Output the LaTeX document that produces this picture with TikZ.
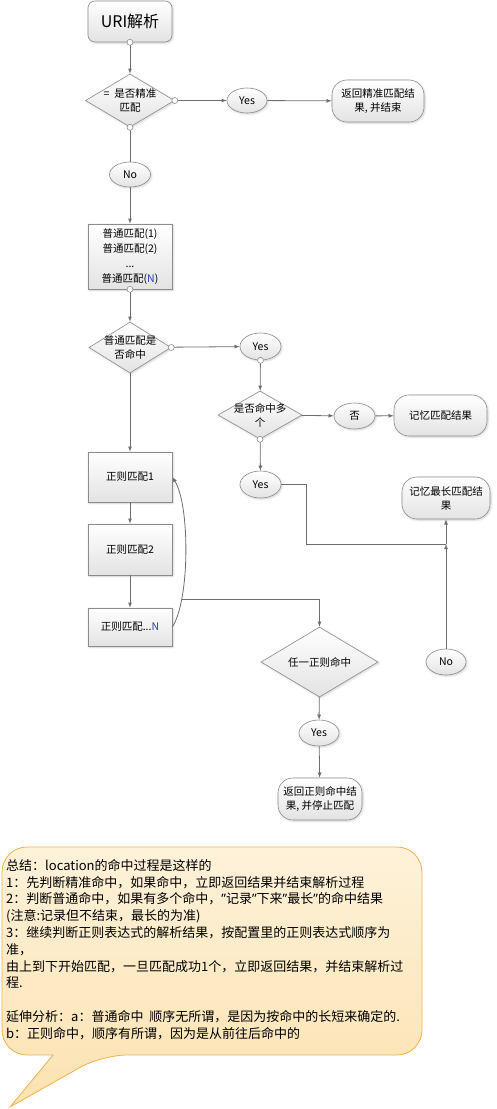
\documentclass[tikz,border=0pt]{standalone}
\usepackage{fontspec}
\setmainfont{Noto Sans CJK SC}
\newfontfamily\quotefont{Noto Sans}
\newcommand{\qmark}{{\quotefont ”}}
\usetikzlibrary{shapes.geometric,shadows.blur}
\definecolor{linegray}{HTML}{6E6E6E}
\definecolor{boxgray}{HTML}{8C8C8C}
\definecolor{notetop}{HTML}{FEF2DA}
\definecolor{notebottom}{HTML}{FCE2B0}
\definecolor{noteedge}{HTML}{F2B14C}
\definecolor{nblue}{HTML}{2A3CB8}
\tikzset{
	base/.style={draw=boxgray, line width=0.6pt, top color=white, bottom color=gray!22,
			font=\fontsize{10.5}{14}\selectfont, align=center, inner sep=1pt,
			blur shadow={shadow xshift=1pt, shadow yshift=-1pt, shadow blur steps=4, shadow opacity=20}},
	proc/.style={base, rectangle, minimum width=84pt},
	term/.style={base, rectangle, rounded corners=15pt},
	decision/.style={base, diamond, inner sep=0pt},
	dlabel/.style={font=\fontsize{10.5}{14}\selectfont, align=center, inner sep=0pt},
	answer/.style={base, ellipse, minimum width=41pt, minimum height=26pt, inner sep=0pt},
	flow/.style={draw=linegray, line width=0.8pt, -latex},
	port/.style={draw=boxgray, fill=white, line width=0.6pt}
}

\begin{document}
\begin{tikzpicture}[x=1pt,y=-1pt]
	\useasboundingbox (0,0) rectangle (496,1109);
	% Hauptzweig
	\node[base, rounded corners=7pt, minimum width=84pt, minimum height=41pt, font=\fontsize{16}{18}\selectfont] (uri) at (130,21.5) {URI解析};
	\node[decision, minimum width=89pt, minimum height=53pt, label={[dlabel]center:{=\ \ 是否精准\\匹配}}] (d1) at (130,100.5) {};
	\node[answer, minimum width=40pt, minimum height=25pt] (yes1) at (247,100.5) {Yes};
	\node[term, minimum width=92pt, minimum height=42pt] (ret1) at (378,101) {返回精准匹配结\\果, 并结束};
	\node[answer, minimum height=25pt] (no1) at (130,174.5) {No};
	\node[proc, minimum height=65pt, font=\fontsize{10.5}{15}\selectfont] (plain) at (130,256.5) {普通匹配(1)\\普通匹配(2)\\...\\普通匹配(\textcolor{nblue}{N})};
	\node[decision, minimum width=82pt, minimum height=51pt, label={[dlabel]center:{普通匹配是\\否命中}}] (d2) at (130,347.5) {};
	% Zweig fuer mehrere Treffer
	\node[answer, minimum height=27pt] (yes2) at (260.5,346.5) {Yes};
	\node[decision, minimum width=84pt, minimum height=48pt, label={[dlabel]center:{是否命中多\\个}}] (d3) at (260,415) {};
	\node[answer] (fou) at (354.5,416) {否};
	\node[term, minimum width=93pt, minimum height=41pt] (mem1) at (440.5,415.5) {记忆匹配结果};
	\node[answer, minimum height=27pt] (yes3) at (260.5,484.5) {Yes};
	\node[term, minimum width=88pt, minimum height=42pt] (mem2) at (446,498) {记忆最长匹配结\\果};
	\node[answer, minimum width=40pt] (no2) at (446,662) {No};
	\coordinate (j) at (446,544);
	% regulaere Ausdruecke
	\node[proc, minimum height=50pt] (re1) at (130,477) {正则匹配1};
	\node[proc, minimum height=51pt] (re2) at (130,549.5) {正则匹配2};
	\node[proc, minimum height=38pt] (reN) at (130,627) {正则匹配...\textcolor{nblue}{N}};
	\node[decision, minimum width=117pt, minimum height=70pt, label={[dlabel]center:{任一正则命中}}] (d4) at (319.5,662) {};
	\node[answer, minimum width=40pt] (yes4) at (319,733) {Yes};
	\node[term, minimum width=84pt, minimum height=42pt] (ret2) at (320,799) {返回正则命中结\\果, 并停止匹配};

	% Verbindungen
	\draw[flow] (uri) -- (d1);
	\draw[flow] (d1) -- (yes1);
	\draw[flow] (yes1) -- (ret1);
	\draw[flow, -] (d1) -- (no1);
	\draw[flow] (no1) -- (plain);
	\draw[flow] (plain) -- (d2);
	\draw[flow] (d2) -- (yes2);
	\draw[flow] (yes2) -- (d3);
	\draw[flow] (d3) -- (fou);
	\draw[flow] (fou) -- (mem1);
	\draw[flow] (d3) -- (yes3);
	\draw[flow, -] (yes3.east) -| (306,544) -- (j);
	\draw[flow] (j) -- (mem2);
	\draw[flow] (no2) -- (j);
	\draw[flow] (d2) -- (re1);
	\draw[flow] (re1) -- (re2);
	\draw[flow] (re2) -- (reN);
	\draw[flow] (reN.east) .. controls (190,600) and (190,505) .. (re1.east) coordinate[pos=0.23] (split);
	\draw[flow] (split) -| (d4.north);
	\draw[flow] (d4) -- (yes4);
	\draw[flow] (yes4) -- (ret2);

	% Anschlusspunkte
	\foreach \p in {uri.south, d1.east, d1.south, plain.south, d2.east, yes2.south, d3.south}
		\filldraw[port] (\p) circle (3pt);

	% Sprechblase
	\draw[draw=noteedge, line width=0.8pt, top color=notetop, bottom color=notebottom]
		(53,1055) [rounded corners=25pt] -- (2,1055) -- (2,847) -- (422,847) -- (422,1055) -- (102,1055)
		[sharp corners] -- (10,1107) -- cycle;
	\node[anchor=north west, align=left, inner sep=0pt, font=\fontsize{13}{16.8}\selectfont] (summary) at (6,859) {%
		总结：location的命中过程是这样的\\
		1：先判断精准命中，如果命中，立即返回结果并结束解析过程\\
		2：判断普通命中，如果有多个命中，\qmark 记录\qmark 下来\qmark 最长\qmark 的命中结果\\
		(注意:记录但不结束，最长的为准)\\
		3：继续判断正则表达式的解析结果，按配置里的正则表达式顺序为\\
		准，\\
		由上到下开始匹配，一旦匹配成功1个，立即返回结果，并结束解析过\\
		程.\\[16.8pt]
		延伸分析：a：普通命中\ \ 顺序无所谓，是因为按命中的长短来确定的.\\
		b：正则命中，顺序有所谓，因为是从前往后命中的};
\end{tikzpicture}
\end{document}
